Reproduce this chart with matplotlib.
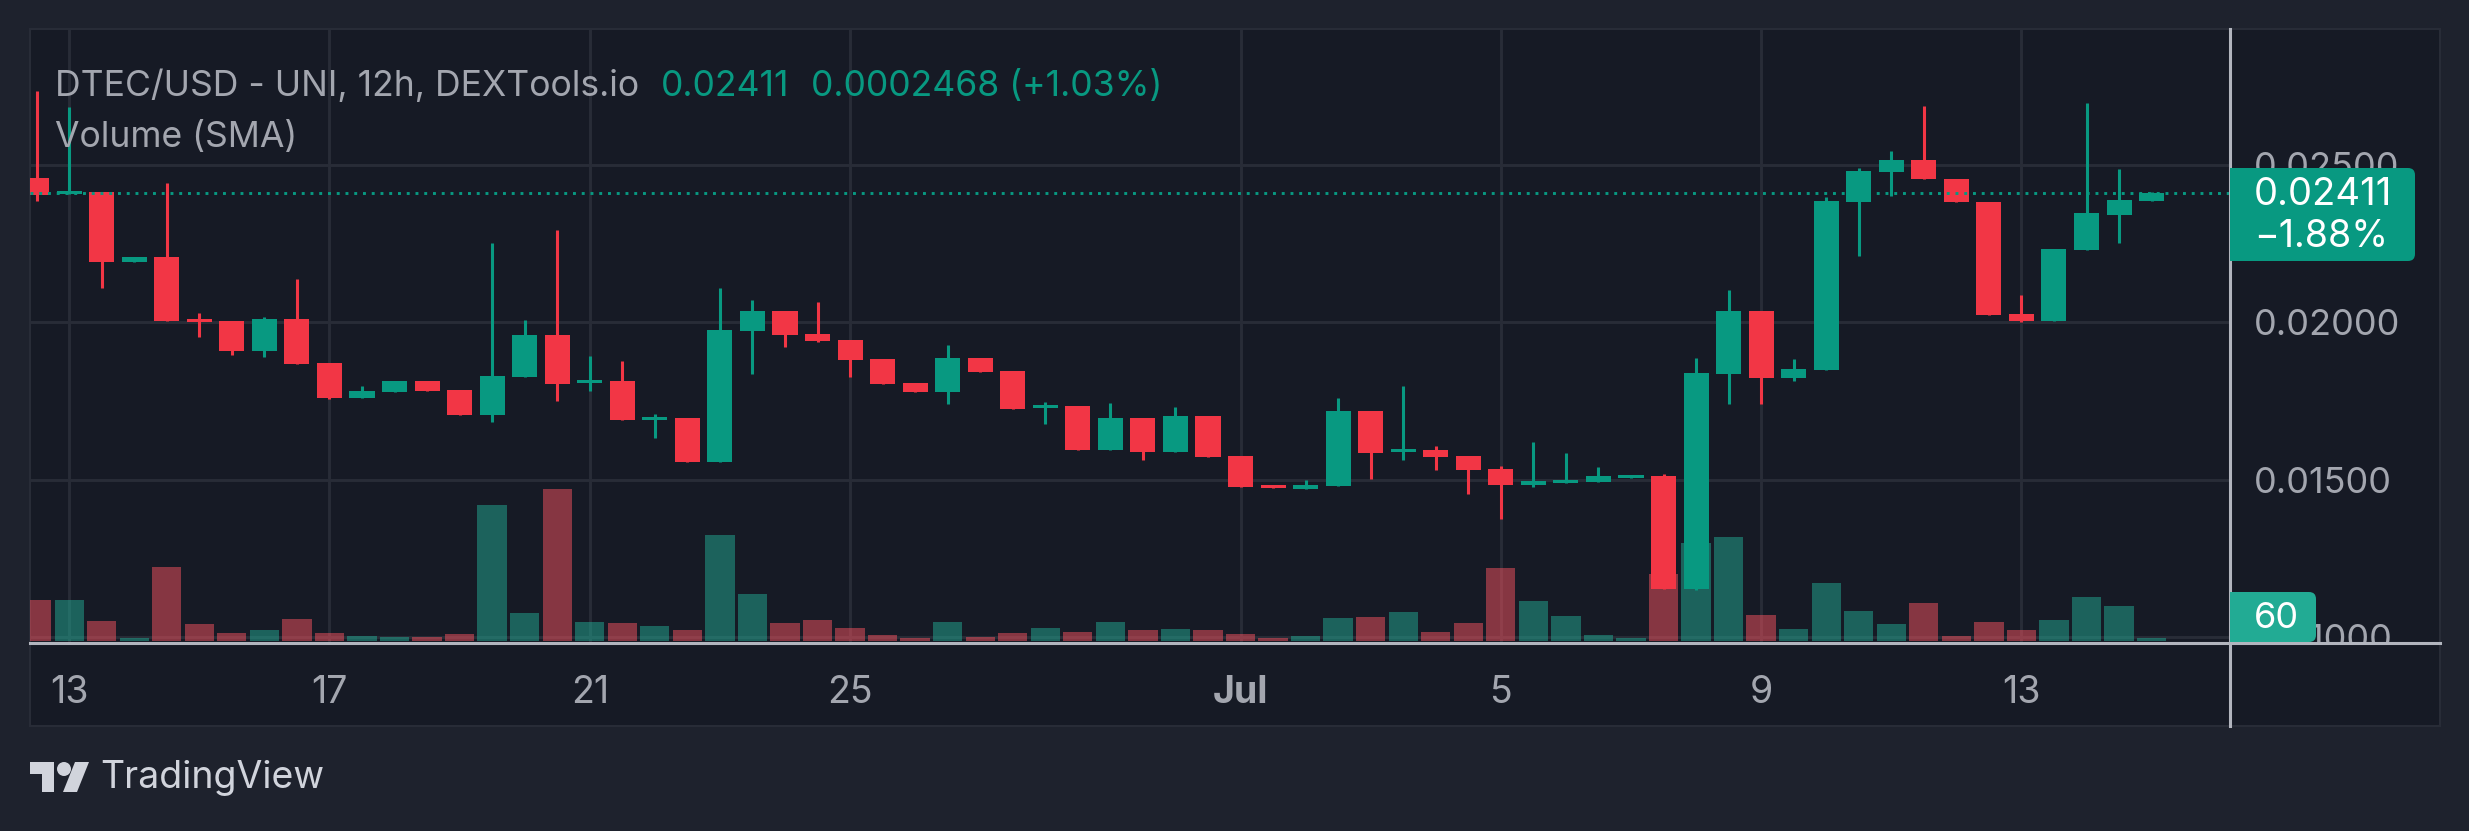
import matplotlib
matplotlib.use('Agg')
import matplotlib.pyplot as plt
from matplotlib.patches import Rectangle, FancyBboxPatch, Polygon, Ellipse
from matplotlib.lines import Line2D
from matplotlib.transforms import Bbox, IdentityTransform

# 12h candles
opens = [0.02459, 0.02407, 0.02414, 0.02192, 0.02208, 0.02011, 0.02005, 0.01910, 0.02011, 0.01871, 0.01760,
         0.01779, 0.01814, 0.01786, 0.01706, 0.01827, 0.01960, 0.01808, 0.01814, 0.01691, 0.01697, 0.01557,
         0.01973, 0.02037, 0.01964, 0.01944, 0.01884, 0.01808, 0.01779, 0.01887, 0.01846, 0.01729, 0.01735,
         0.01595, 0.01697, 0.01589, 0.01703, 0.01576, 0.01484, 0.01471, 0.01481, 0.01719, 0.01589, 0.01595,
         0.01576, 0.01535, 0.01484, 0.01491, 0.01494, 0.01507, 0.01513, 0.01154, 0.01838, 0.02037, 0.01824,
         0.01850, 0.02383, 0.02479, 0.02517, 0.02456, 0.02383, 0.02027, 0.02005, 0.02231, 0.02342, 0.02387]
highs = [0.02735, 0.02684, 0.02414, 0.02208, 0.02443, 0.02030, 0.02005, 0.02018, 0.02138, 0.01871, 0.01798,
         0.01814, 0.01814, 0.01786, 0.02252, 0.02008, 0.02294, 0.01894, 0.01878, 0.01710, 0.01697, 0.02110,
         0.02071, 0.02037, 0.02065, 0.01944, 0.01884, 0.01808, 0.01929, 0.01887, 0.01846, 0.01748, 0.01735,
         0.01744, 0.01697, 0.01732, 0.01703, 0.01576, 0.01484, 0.01500, 0.01760, 0.01719, 0.01798, 0.01608,
         0.01576, 0.01544, 0.01621, 0.01586, 0.01541, 0.01517, 0.01519, 0.01887, 0.02104, 0.02037, 0.01885,
         0.02399, 0.02492, 0.02543, 0.02688, 0.02456, 0.02383, 0.02086, 0.02234, 0.02698, 0.02488, 0.02415]
lows = [0.02386, 0.02407, 0.02110, 0.02192, 0.02005, 0.01954, 0.01897, 0.01891, 0.01868, 0.01757, 0.01760,
        0.01779, 0.01783, 0.01706, 0.01684, 0.01827, 0.01751, 0.01783, 0.01691, 0.01633, 0.01557, 0.01557,
        0.01837, 0.01922, 0.01938, 0.01827, 0.01805, 0.01779, 0.01741, 0.01843, 0.01725, 0.01678, 0.01595,
        0.01595, 0.01564, 0.01589, 0.01573, 0.01478, 0.01475, 0.01471, 0.01481, 0.01503, 0.01564, 0.01532,
        0.01456, 0.01376, 0.01478, 0.01491, 0.01494, 0.01507, 0.01154, 0.01152, 0.01742, 0.01742, 0.01815,
        0.01850, 0.02212, 0.02400, 0.02454, 0.02381, 0.02025, 0.02003, 0.02005, 0.02231, 0.02253, 0.02387]
closes = [0.02406, 0.02418, 0.02192, 0.02208, 0.02005, 0.02002, 0.01910, 0.02011, 0.01868, 0.01760, 0.01783,
          0.01814, 0.01783, 0.01706, 0.01830, 0.01960, 0.01805, 0.01818, 0.01691, 0.01700, 0.01557, 0.01976,
          0.02037, 0.01960, 0.01941, 0.01881, 0.01805, 0.01779, 0.01887, 0.01843, 0.01725, 0.01738, 0.01595,
          0.01697, 0.01589, 0.01703, 0.01573, 0.01478, 0.01475, 0.01484, 0.01719, 0.01586, 0.01598, 0.01573,
          0.01532, 0.01484, 0.01497, 0.01500, 0.01513, 0.01517, 0.01154, 0.01840, 0.02037, 0.01824, 0.01853,
          0.02387, 0.02482, 0.02517, 0.02454, 0.02381, 0.02025, 0.02005, 0.02234, 0.02346, 0.02389, 0.02411]
volumes = [902, 902, 440, 66, 1628, 374, 176, 242, 484, 176, 110, 88, 88, 154, 2992, 616, 3344, 418, 396, 330,
           242, 2332, 1034, 396, 462, 286, 132, 66, 418, 88, 176, 286, 198, 418, 242, 264, 242, 154, 66, 110,
           506, 528, 638, 198, 396, 1606, 880, 550, 132, 60, 1474, 2156, 2288, 572, 264, 1268, 660, 374, 836,
           110, 418, 242, 462, 968, 770, 60]
x_tick_pos = [1, 9, 17, 25, 37, 45, 53, 61]
x_tick_labels = ['13', '17', '21', '25', 'Jul', '5', '9', '13']
y_ticks = [0.01, 0.015, 0.02, 0.025]
last_price = 0.02411

W, H = 2469, 831
BG = '#1E222D'
PANE = '#161A25'
GRID = '#282C37'
UP = '#089981'
DOWN = '#F23645'
VOL_UP = '#22AB94'
VOL_DOWN = '#F7525F'
AXIS = '#B2B5BE'
TXT = '#A3A6AF'
FONT = 'Inter'

plt.rcParams['font.family'] = FONT


def px(x, y):
    return x / W, 1 - y / H


fig = plt.figure(figsize=(W / 100, H / 100), dpi=100, facecolor=BG)

# pane behind everything
fig.add_artist(Rectangle(px(30, 726), 2410 / W, 697 / H, transform=fig.transFigure,
                         fc=PANE, ec=GRID, lw=1.5, zorder=-1))

ax = fig.add_axes([30 / W, 1 - 643 / H, 2200 / W, 614 / H])
ax.patch.set_visible(False)
ax.set_xlim(-0.203, 67.41)
ax.set_ylim(0.009825, 0.029317)
ax.set_xticks(x_tick_pos)
ax.set_xticklabels(x_tick_labels)
ax.set_yticks(y_ticks)
ax.set_yticklabels(['%.5f' % v for v in y_ticks])
ax.grid(True, color=GRID, lw=2.1)
ax.set_axisbelow(True)
for s in ax.spines.values():
    s.set_visible(False)

vol_ax = ax.twinx()
vol_ax.set_ylim(-44, 13464)
vol_ax.axis('off')
candle_ax = ax.twinx()
candle_ax.set_ylim(ax.get_ylim())
candle_ax.axis('off')

ax.yaxis.tick_right()
ax.tick_params(axis='y', length=0, pad=17.5, labelsize=26, labelcolor=TXT)
ax.tick_params(axis='x', length=0, pad=23, labelsize=27, labelcolor=TXT)
ax.get_xticklabels()[4].set_fontweight('bold')
# bottom price label gets cut by the time axis
for lbl in ax.get_yticklabels():
    lbl.set_clip_on(True)
    lbl.set_clip_box(Bbox([[0, H - 643], [W, H]]))

idx = list(range(len(opens)))
colors = [UP if c >= o else DOWN for o, c in zip(opens, closes)]
vol_colors = [VOL_UP if c >= o else VOL_DOWN for o, c in zip(opens, closes)]

vol_ax.bar(idx, volumes, width=0.9, color=vol_colors, alpha=0.5, lw=0)

candle_ax.vlines(idx, lows, highs, colors=colors, lw=2.2)
candle_ax.bar(idx, [abs(c - o) for o, c in zip(opens, closes)], bottom=[min(o, c) for o, c in zip(opens, closes)],
              width=0.77, color=colors, lw=0, zorder=3)
candle_ax.axhline(last_price, color=UP, lw=2.1, ls=(0, (1, 2)), dash_capstyle='butt', zorder=4)

# axis lines
fig.add_artist(Line2D([30 / W, 2440 / W], [1 - 643 / H] * 2, color=AXIS, lw=2.2, zorder=5))
fig.add_artist(Line2D([2230 / W] * 2, [1 - 29 / H, 1 - 726 / H], color=AXIS, lw=2.2, zorder=5))

# last price + volume boxes, square on the left and rounded on the right
for x0, y0, x1, y1, col in [(2230, 168, 2415, 261, UP), (2230, 592, 2316, 642, VOL_UP)]:
    fig.add_artist(FancyBboxPatch((x0 + 20, H - y1), x1 - x0 - 20, y1 - y0, transform=IdentityTransform(),
                                  boxstyle='round,pad=0,rounding_size=7', fc=col, lw=0, zorder=6))
    fig.add_artist(Rectangle(px(x0, y1), 40 / W, (y1 - y0) / H, transform=fig.transFigure,
                             fc=col, lw=0, zorder=6))
fig.text(*px(2254, 195), '0.02411', color='white', fontsize=27.5, va='center', zorder=7)
fig.text(*px(2254, 237), '\u22121.88%', color='white', fontsize=27, va='center', zorder=7)
fig.text(*px(2254, 618), '60', color='white', fontsize=26, va='center', zorder=7)

# legend lines
fig.text(*px(55, 96), 'DTEC/USD - UNI, 12h, DEXTools.io', color=TXT, fontsize=25.6, va='baseline', zorder=7)
fig.text(*px(661, 96), '0.02411', color=UP, fontsize=25.6, va='baseline', zorder=7)
fig.text(*px(811, 96), '0.0002468 (+1.03%)', color=UP, fontsize=25.6, va='baseline', zorder=7)
fig.text(*px(55, 147), 'Volume (SMA)', color=TXT, fontsize=25.6, va='baseline', zorder=7)

# TradingView logo
LOGO = '#D1D4DC'
fig.add_artist(Polygon([px(30, 762), px(54, 762), px(54, 792), px(42, 792), px(42, 774), px(30, 774)],
                       transform=fig.transFigure, fc=LOGO, lw=0))
fig.add_artist(Ellipse(px(64, 769), 14 / W, 14 / H, transform=fig.transFigure, fc=LOGO, lw=0))
fig.add_artist(Polygon([px(75, 762), px(89, 762), px(77, 792), px(63, 792)],
                       transform=fig.transFigure, fc=LOGO, lw=0))
fig.text(*px(100, 788), 'TradingView', color=LOGO, fontsize=27, va='baseline')

fig.savefig('out.png', dpi=100, facecolor=BG)
